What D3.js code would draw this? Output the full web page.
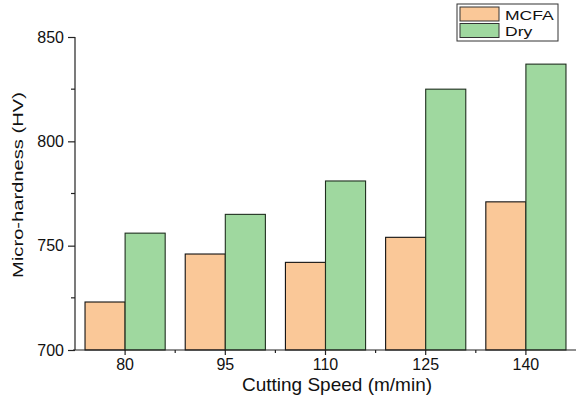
<!DOCTYPE html>
<html>
<head>
<meta charset="utf-8">
<script src="https://cdn.jsdelivr.net/npm/d3@7"></script>
<style>
  body { margin: 0; background: #fff; }
  svg { display: block; font-family: "Liberation Sans", Arial, sans-serif; }
</style>
</head>
<body>
<svg></svg>
<script>
const speeds = ['80', '95', '110', '125', '140'];
const mcfa = [723, 746, 742, 754, 771];
const dry = [756, 765, 781, 825, 837];
const seriesNames = ['MCFA', 'Dry'];
const seriesColors = ['#fac898', '#9fd89f'];
const yTicks = [700, 750, 800, 850];
const yMinor = [725, 775, 825];

const width = 576, height = 397;
const svg = d3.select('svg')
    .attr('width', width)
    .attr('height', height);

const x0 = d3.scaleBand()
    .domain(speeds)
    .range([75, 576])
    .paddingInner(0.2)
    .paddingOuter(0.1);

const x1 = d3.scaleBand()
    .domain(seriesNames)
    .range([0, x0.bandwidth()]);

const y = d3.scaleLinear()
    .domain([700, 850])
    .range([350, 37]);

const rows = speeds.map((s, i) => ({speed: s, values: [mcfa[i], dry[i]]}));

// bars
const groups = svg.append('g').selectAll('g').data(rows)
    .enter().append('g')
        .attr('transform', d => `translate(${x0(d.speed)},0)`);

groups.selectAll('rect')
    .data(d => d.values.map((v, j) => ({name: seriesNames[j], v, j})))
    .enter().append('rect')
        .attr('x', d => x1(d.name))
        .attr('y', d => y(d.v))
        .attr('width', x1.bandwidth())
        .attr('height', d => y(700) - y(d.v))
        .attr('fill', d => seriesColors[d.j])
        .attr('stroke', d => d.j === 0 ? '#111' : '#1f2f1f')
        .attr('stroke-width', 1.1);

// y axis
const yAxis = d3.axisLeft(y)
    .tickValues(yTicks)
    .tickSize(7)
    .tickPadding(4)
    .tickFormat(d3.format('d'));

const yg = svg.append('g')
    .attr('transform', 'translate(75,0)')
    .call(yAxis);
yg.select('.domain').attr('stroke', '#222').attr('stroke-width', 1.2).attr('d', `M0,${y(850)}V${y(700)}`);
yg.selectAll('.tick line').attr('stroke', '#222').attr('stroke-width', 1.2);
yg.selectAll('.tick text').attr('font-size', 16).attr('fill', '#111')
    .attr('font-family', '"Liberation Sans", Arial, sans-serif');

yg.selectAll('.minor').data(yMinor)
    .enter().append('line')
        .attr('class', 'minor')
        .attr('x1', -4).attr('x2', 0)
        .attr('y1', d => y(d)).attr('y2', d => y(d))
        .attr('stroke', '#222').attr('stroke-width', 1.2);

// x axis
const xAxis = d3.axisBottom(x0)
    .tickSize(5)
    .tickPadding(4);

const xg = svg.append('g')
    .attr('transform', 'translate(0,350)')
    .call(xAxis);
xg.select('.domain').attr('stroke', '#222').attr('stroke-width', 1.2).attr('d', 'M73,0H576');
xg.selectAll('.tick line').attr('stroke', '#222').attr('stroke-width', 1.2);
xg.selectAll('.tick text').attr('font-size', 16).attr('fill', '#111')
    .attr('font-family', '"Liberation Sans", Arial, sans-serif');

xg.selectAll('.minor').data(speeds.slice(0, -1))
    .enter().append('line')
        .attr('class', 'minor')
        .attr('x1', d => x0(d) + x0.bandwidth() + x0.step() * 0.1)
        .attr('x2', d => x0(d) + x0.bandwidth() + x0.step() * 0.1)
        .attr('y1', 0).attr('y2', 3)
        .attr('stroke', '#222').attr('stroke-width', 1.2);

// axis titles
svg.append('text')
    .text('Cutting Speed (m/min)')
    .attr('x', 337)
    .attr('y', 391)
    .attr('text-anchor', 'middle')
    .attr('font-size', 19)
    .attr('fill', '#111');

svg.append('text')
    .text('Micro-hardness (HV)')
    .attr('transform', 'translate(23,185) rotate(-90) scale(1.3,1)')
    .attr('text-anchor', 'middle')
    .attr('font-size', 15.5)
    .attr('fill', '#111');

// legend
const legend = svg.append('g');
legend.append('rect')
    .attr('x', 457).attr('y', 4)
    .attr('width', 101).attr('height', 37)
    .attr('fill', '#fff')
    .attr('stroke', '#333').attr('stroke-width', 1);

const items = legend.selectAll('g.item').data(seriesNames)
    .enter().append('g')
        .attr('class', 'item')
        .attr('transform', (d, i) => `translate(0,${i * 16.5})`);

items.append('rect')
    .attr('x', 460).attr('y', 7)
    .attr('width', 39).attr('height', 14)
    .attr('fill', (d, i) => seriesColors[i])
    .attr('stroke', '#333').attr('stroke-width', 1);

items.append('text')
    .text(d => d)
    .attr('transform', 'translate(505,19.5) scale(1.35,1)')
    .attr('font-size', 13)
    .attr('fill', '#111');
</script>
</body>
</html>
